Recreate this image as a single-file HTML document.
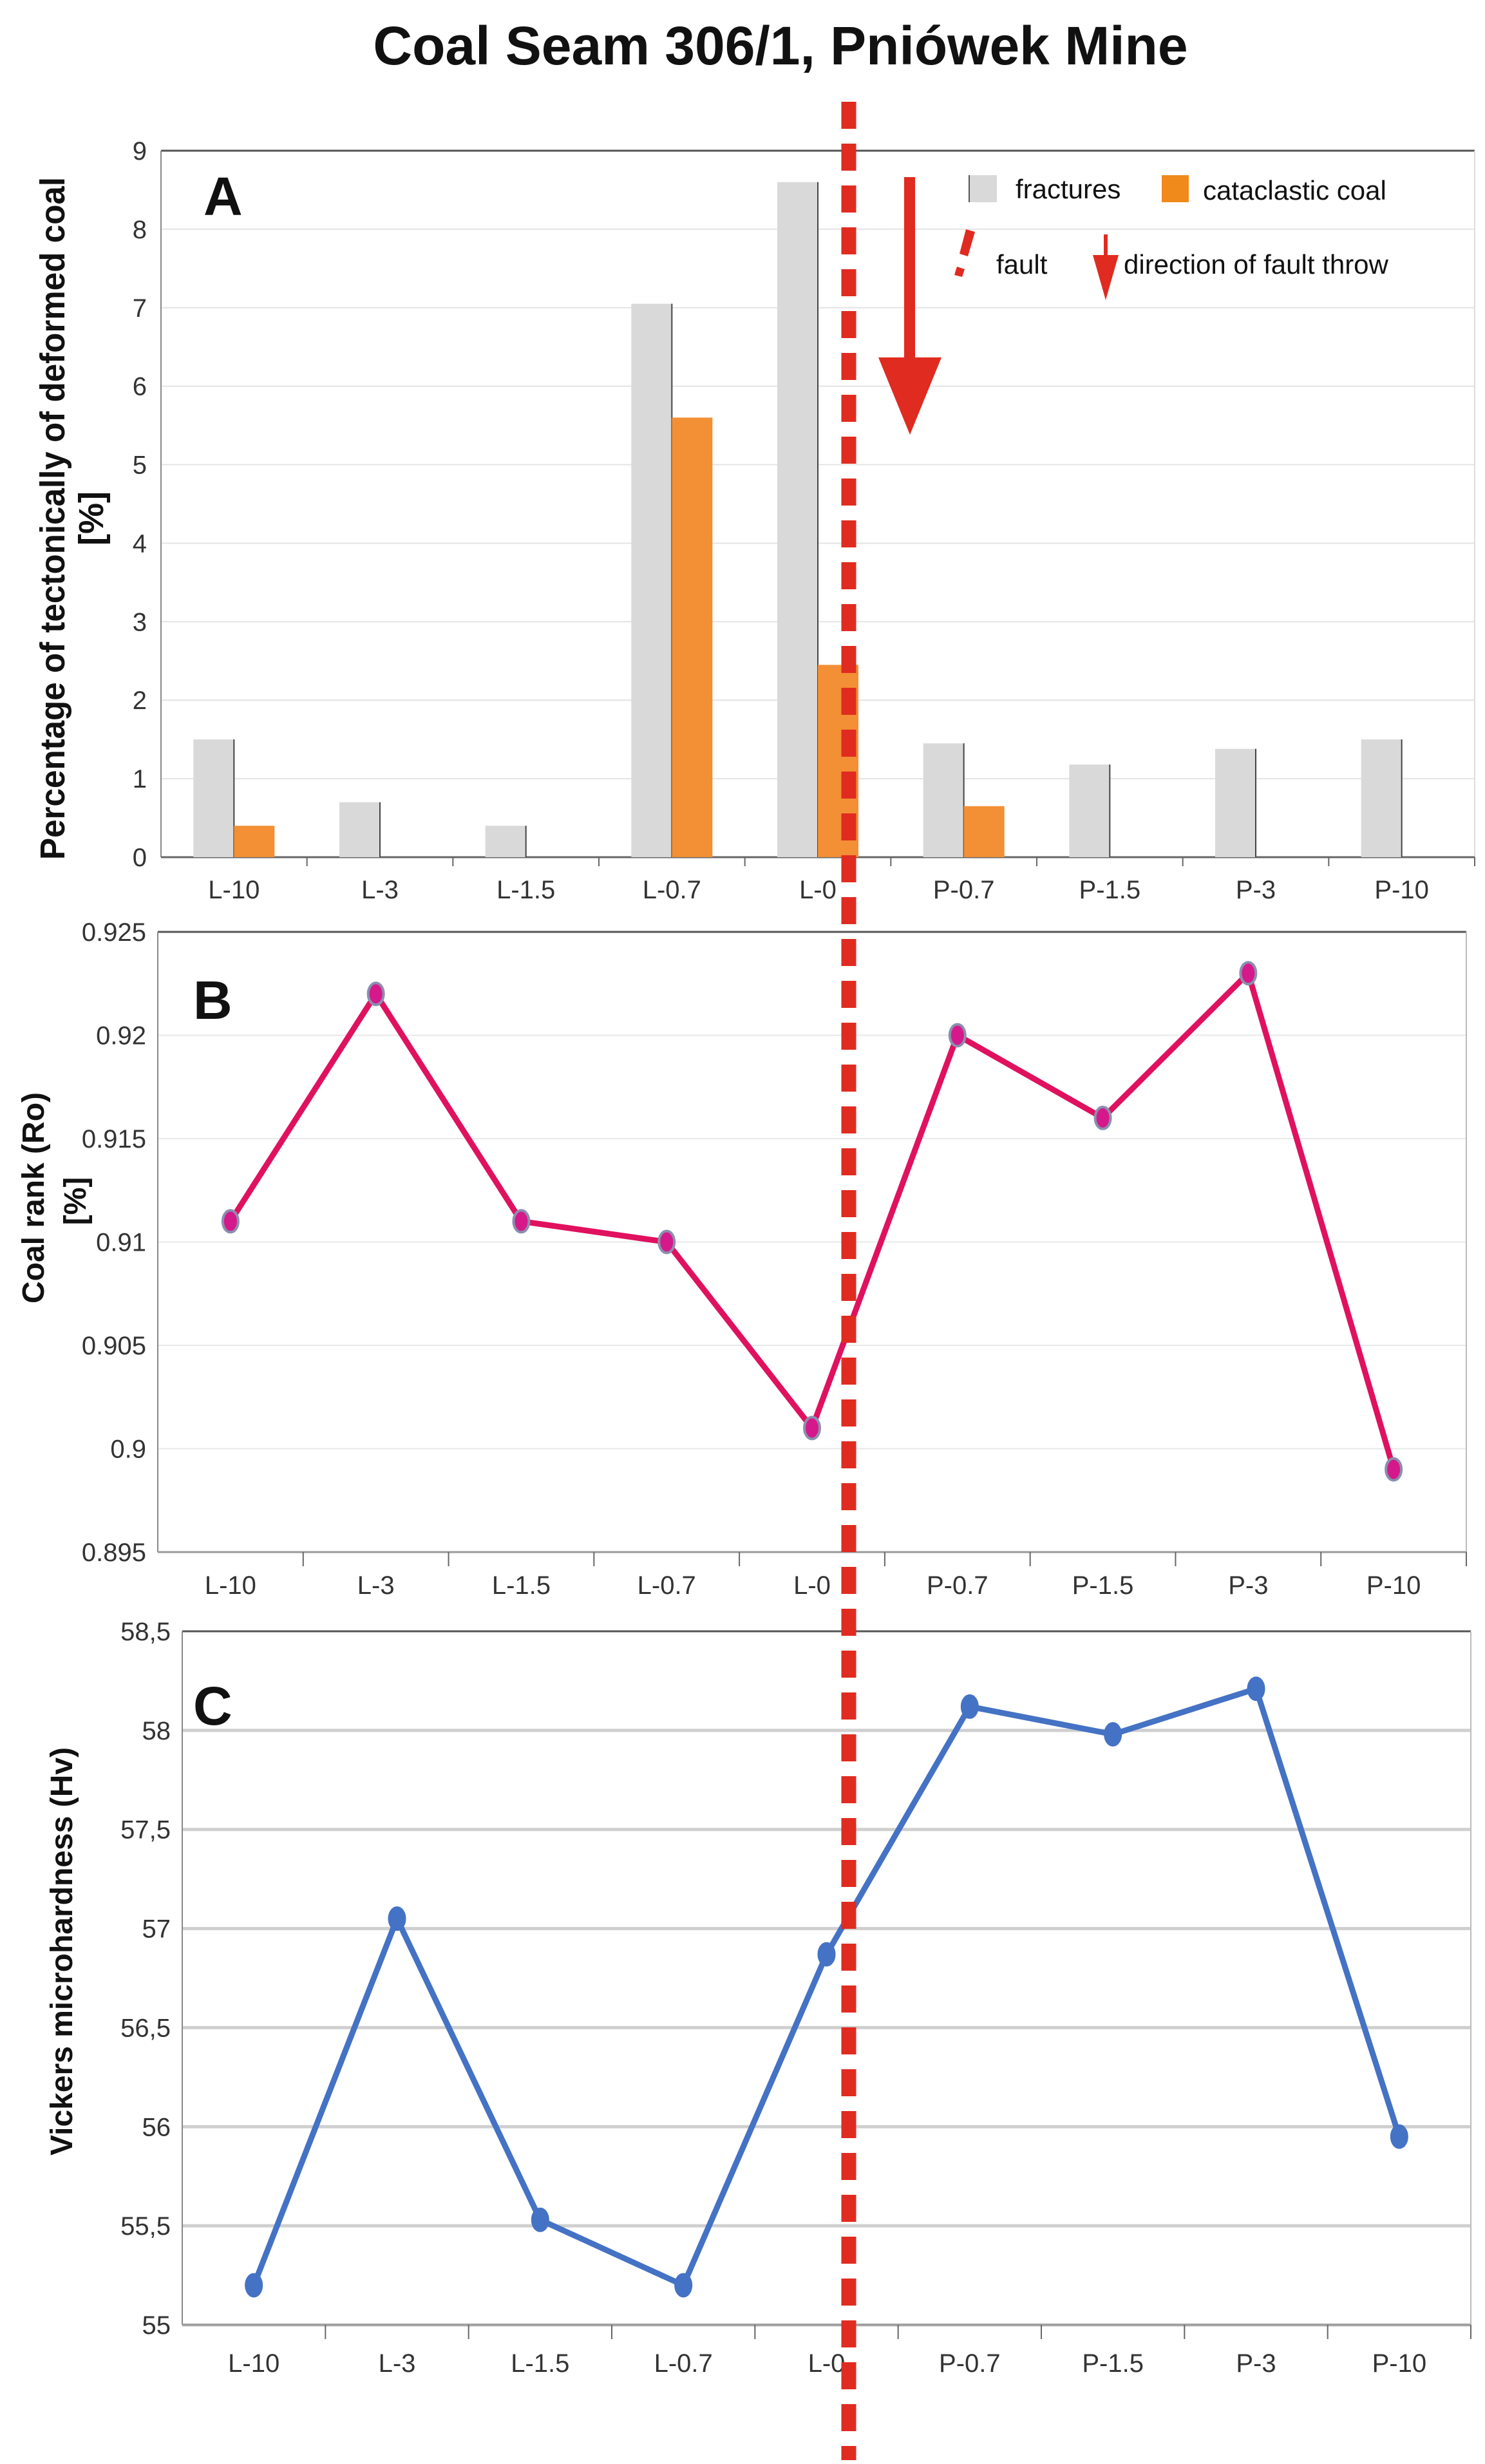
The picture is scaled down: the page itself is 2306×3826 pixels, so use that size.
<!DOCTYPE html>
<html><head><meta charset="utf-8"><style>
html,body{margin:0;padding:0;background:#fff;}
svg{display:block;}
text{font-family:"Liberation Sans",sans-serif;}
.tick{font-size:40px;fill:#333;}
.ttl{font-weight:bold;font-size:48px;fill:#111;}
</style></head><body>
<svg id="fig" width="2306" height="3826" viewBox="0 0 2306 3826" xmlns="http://www.w3.org/2000/svg">
<text x="1212" y="100" text-anchor="middle" style="font-size:84px;font-weight:bold" fill="#111">Coal Seam 306/1, Pniówek Mine</text>
<g id="chartA"></g>
<g id="chartB"></g>
<g id="chartC"></g>
<g>
<rect x="1504" y="272" width="44" height="42" fill="#d9d9d9"/>
<line x1="1505" y1="272" x2="1505" y2="314" stroke="#555" stroke-width="2"/>
<text x="1577" y="308" style="font-size:42px" fill="#111">fractures</text>
<rect x="1804" y="272" width="42" height="42" fill="#f08a1a"/>
<text x="1868" y="310" style="font-size:42px" fill="#111">cataclastic coal</text>
<polygon points="1500,356 1514,360 1503,398 1490,394" fill="#e02b20"/>
<polygon points="1486,414 1498,418 1494,430 1482,427" fill="#e02b20"/>
<text x="1547" y="425" style="font-size:42px" fill="#111">fault</text>
<rect x="1714" y="364" width="6" height="50" fill="#e02b20"/>
<polygon points="1697,396 1737,396 1717,466" fill="#e02b20"/>
<text x="1745" y="425" style="font-size:42px" fill="#111">direction of fault throw</text>
</g>
<g>
<rect x="1404" y="275" width="17" height="290" fill="#e02b20"/>
<polygon points="1364,555 1462,555 1413,675" fill="#e02b20"/>
</g>
<line x1="1318" y1="158" x2="1318" y2="3820" stroke="#e02b20" stroke-width="23" stroke-dasharray="42 23"/>
</svg>
<script>
const NS="http://www.w3.org/2000/svg";
const categories=["L-10","L-3","L-1.5","L-0.7","L-0","P-0.7","P-1.5","P-3","P-10"];
const fracturesValues=[1.5,0.7,0.4,7.05,8.6,1.45,1.18,1.38,1.5];
const cataclasticValues=[0.4,0,0,5.6,2.45,0.65,0,0,0];
const aTicks=[0,1,2,3,4,5,6,7,8,9];
const rankValues=[0.911,0.922,0.911,0.910,0.901,0.920,0.916,0.923,0.899];
const bTicks=[0.895,0.9,0.905,0.91,0.915,0.92,0.925];
const bTickLabels=["0.895","0.9","0.905","0.91","0.915","0.92","0.925"];
const hardValues=[55.2,57.05,55.53,55.2,56.87,58.12,57.98,58.21,55.95];
const cTicks=[55,55.5,56,56.5,57,57.5,58,58.5];
const cTickLabels=["55","55,5","56","56,5","57","57,5","58","58,5"];

function mk(parent,tag,attrs,text){const e=document.createElementNS(NS,tag);for(const k in attrs)e.setAttribute(k,attrs[k]);if(text!==undefined)e.textContent=text;parent.appendChild(e);return e;}
function scale(d0,d1,r0,r1){return v=>r0+(v-d0)/(d1-d0)*(r1-r0);}

(function(){
const g=document.getElementById('chartA');
const L=250,R=2290,T=234,B=1331;
const y=scale(0,9,B,T);const bw=(R-L)/categories.length;
const cx=i=>L+bw*(i+0.5);
aTicks.forEach(t=>{
 const gl=mk(g,'line',{x1:L,x2:R,y1:y(t),y2:y(t),stroke:t===9?'#555':'#e4e4e4','stroke-width':t===9?3:2});
 
 
 const tl=mk(g,'text',{x:L-22,y:y(t)+14,'text-anchor':'end',class:'tick'},String(t));
 
 
});
mk(g,'line',{x1:L,x2:L,y1:T,y2:B,stroke:'#888','stroke-width':2});
mk(g,'line',{x1:R,x2:R,y1:T,y2:B,stroke:'#ddd','stroke-width':2});
mk(g,'line',{x1:L,x2:R,y1:B,y2:B,stroke:'#666','stroke-width':3});
categories.forEach((c,i)=>{
 const x0=cx(i);
 const f=mk(g,'rect',{x:x0-63,y:y(fracturesValues[i]),width:63,height:B-y(fracturesValues[i]),fill:'#d9d9d9'});
 
 
 if(fracturesValues[i]>0)mk(g,'line',{x1:x0,x2:x0,y1:y(fracturesValues[i]),y2:B,stroke:'#444','stroke-width':2});
 if(cataclasticValues[i]>0){
  const o=mk(g,'rect',{x:x0,y:y(cataclasticValues[i]),width:63,height:B-y(cataclasticValues[i]),fill:'#f38f34'});
  
  
 }
 const tk=L+bw*(i+1);mk(g,'line',{x1:tk,x2:tk,y1:B,y2:B+14,stroke:'#666','stroke-width':2});
 const xl=mk(g,'text',{x:x0,y:1395,'text-anchor':'middle',class:'tick'},c);
 
 
});
const lab=mk(g,'text',{x:316,y:334,style:'font-size:84px;font-weight:bold',fill:'#111'},'A');


const t1=mk(g,'text',{x:0,y:0,'text-anchor':'middle',class:'ttl',style:'font-size:54px',textLength:'1060',lengthAdjust:'spacingAndGlyphs',transform:'translate(100,805) rotate(-90)'},'Percentage of tectonically of deformed coal');


const t2=mk(g,'text',{x:0,y:0,'text-anchor':'middle',class:'ttl',style:'font-size:54px',transform:'translate(160,805) rotate(-90)'},'[%]');


})();

function lineChart(id,vals,ticks,labels,d0,d1,L,R,T,B,color,key,labY,gridStyle,titleLines,letter,letterY){
const g=document.getElementById(id);
const y=scale(d0,d1,B,T);const bw=(R-L)/categories.length;const cx=i=>L+bw*(i+0.5);
ticks.forEach((t,k)=>{
 const top=k===ticks.length-1;
 const gl=mk(g,'line',{x1:gridStyle.start,x2:R,y1:y(t),y2:y(t),stroke:top?'#555':gridStyle.color,'stroke-width':top?3:gridStyle.w});
 
 
 const tl=mk(g,'text',{x:L-18,y:y(t)+14,'text-anchor':'end',class:'tick'},labels[k]);
 
 
});
mk(g,'line',{x1:L,x2:L,y1:T,y2:B,stroke:'#888','stroke-width':2});
mk(g,'line',{x1:R,x2:R,y1:T,y2:B,stroke:'#bbb','stroke-width':2});
mk(g,'line',{x1:L,x2:R,y1:B,y2:B,stroke:'#999','stroke-width':3});
categories.forEach((c,i)=>{
 const tk=L+bw*(i+1);mk(g,'line',{x1:tk,x2:tk,y1:B,y2:B+22,stroke:'#666','stroke-width':2});
 const xl=mk(g,'text',{x:cx(i),y:labY,'text-anchor':'middle',class:'tick'},c);
 
 
});
const pts=vals.map((v,i)=>cx(i)+','+y(v)).join(' ');
const pl=mk(g,'polyline',{points:pts,fill:'none',stroke:color,'stroke-width':9,'stroke-linejoin':'round'});


vals.forEach((v,i)=>{
 const m=mk(g,'ellipse',{cx:cx(i),cy:y(v),rx:12,ry:17,fill:key==='b'?'#d6198a':color,stroke:key==='b'?'#8a8fb0':color,'stroke-width':4});
 
 
});
const lab=mk(g,'text',{x:300,y:letterY,style:'font-size:84px;font-weight:bold',fill:'#111'},letter);


titleLines.forEach((tl,k)=>{
 const t=mk(g,'text',{x:0,y:0,'text-anchor':'middle',class:'ttl',transform:'translate('+tl.x+','+tl.y+') rotate(-90)'},tl.t);
 
 
});
}
lineChart('chartB',rankValues,bTicks,bTickLabels,0.895,0.925,245,2277,1447,2410,'#e0115f','b',2475,{start:245,color:'#e8e8e8',w:2},[{t:'Coal rank (Ro)',x:68,y:1860},{t:'[%]',x:133,y:1865}],'B',1582);
lineChart('chartC',hardValues,cTicks,cTickLabels,55,58.5,283,2284,2533,3610,'#4472c4','c',3683,{start:283,color:'#cfcfcf',w:5},[{t:'Vickers microhardness (Hv)',x:112,y:3030}],'C',2678);
</script>
</body></html>
